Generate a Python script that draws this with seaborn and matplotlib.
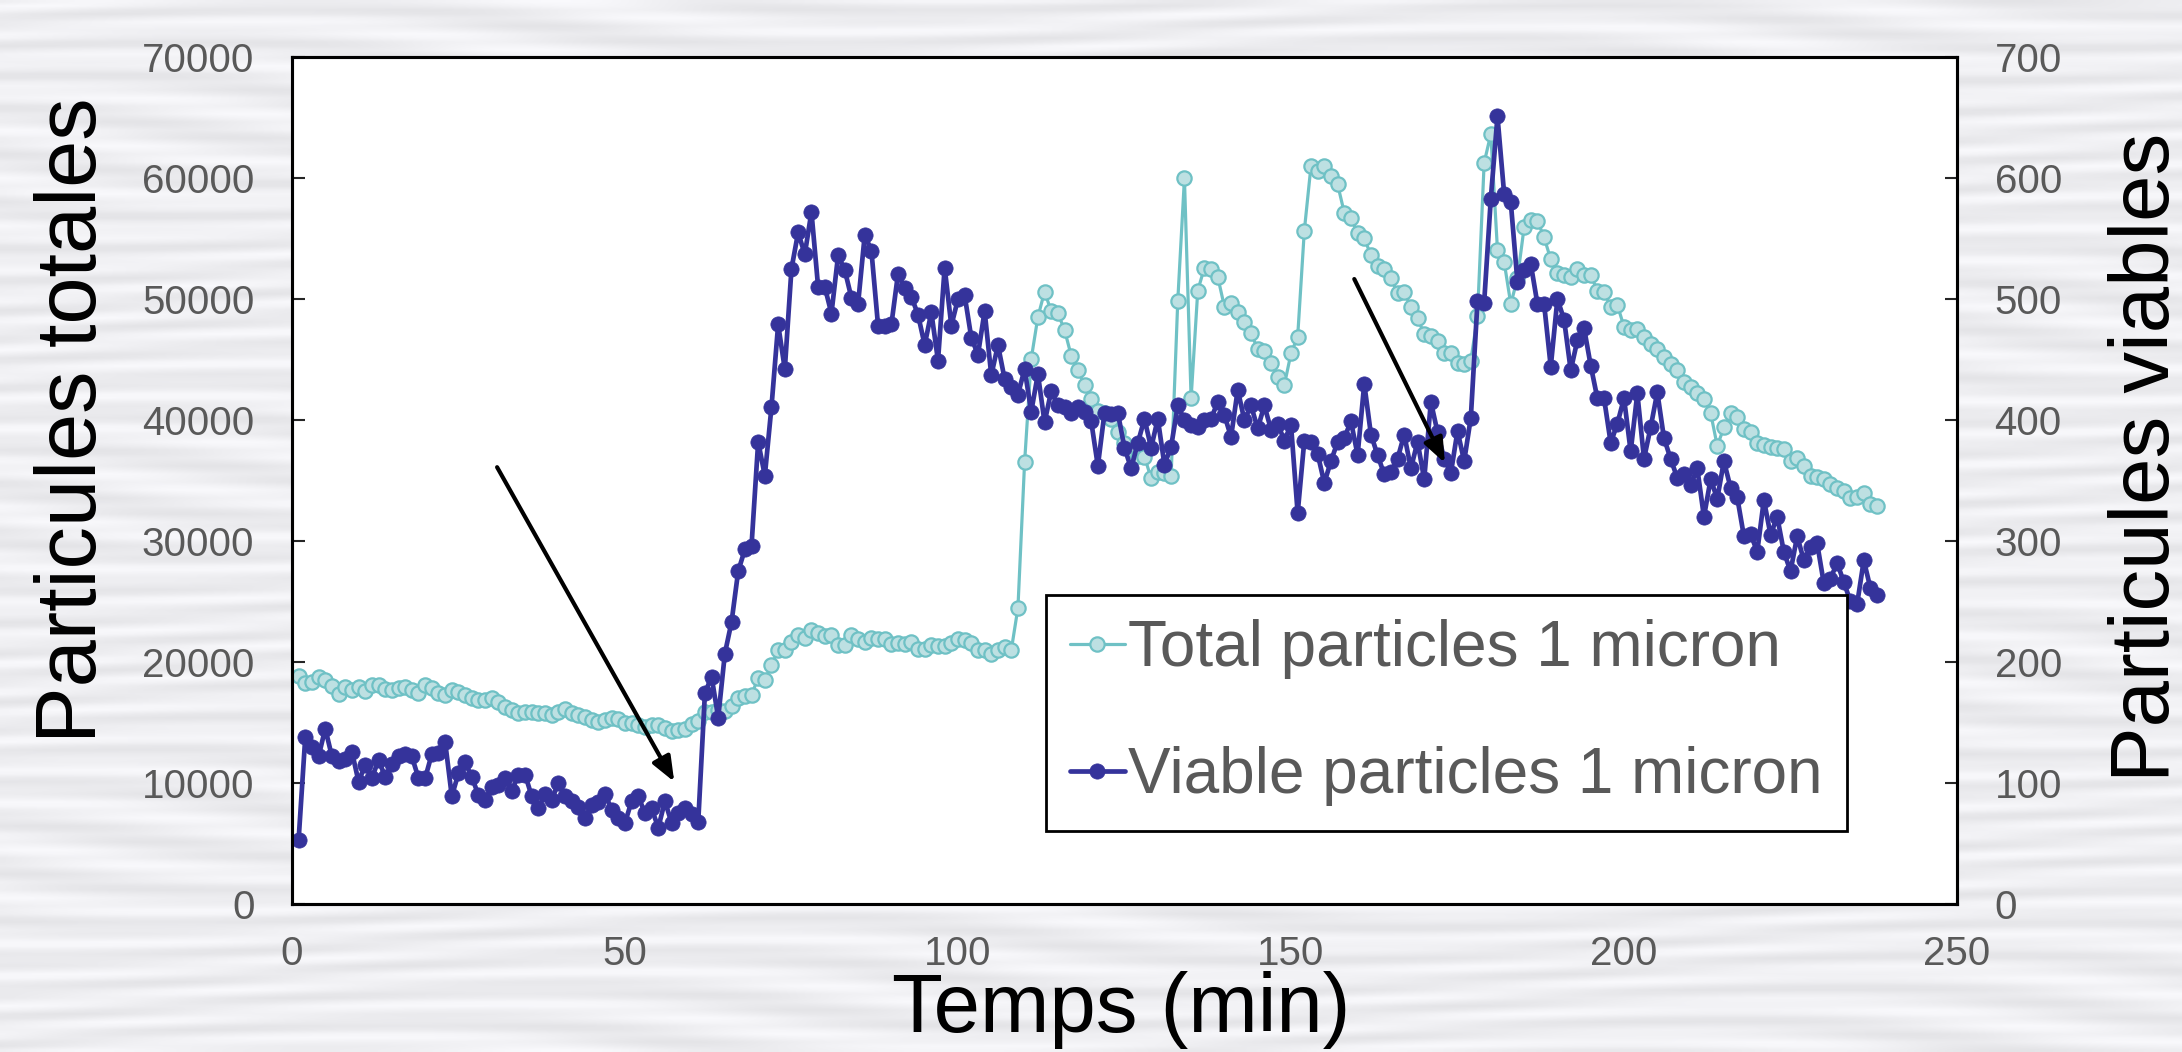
import numpy as np
import pandas as pd
import matplotlib
matplotlib.use("Agg")
import matplotlib.pyplot as plt
import seaborn as sns

# --- settings ---
sns.set_style("white")
plt.rcParams['font.family'] = ['Liberation Sans', 'DejaVu Sans']

# --- data (1 point per minute) ---
minutes = list(range(1, 239))

total = [18840, 18240, 18380, 18730, 18510, 18020, 17360, 17910, 17690, 17910,
         17630, 18100, 18100, 17740, 17690, 17820, 17910, 17690, 17410, 18100,
         17820, 17410, 17270, 17690, 17550, 17270, 17000, 16860, 16860, 17000,
         16720, 16310, 16030, 15760, 15900, 15900, 15810, 15760, 15620, 15900,
         16090, 15760, 15620, 15480, 15210, 15070, 15210, 15350, 15260, 14990,
         14930, 14790, 14660, 14790, 14790, 14520, 14330, 14380, 14500, 14900,
         15100, 15900, 15900, 16000, 15910, 16400, 17060, 17220, 17280, 18690,
         18530, 19730, 20970, 20970, 21690, 22190, 21960, 22680, 22380, 22120,
         22190, 21400, 21370, 22190, 21860, 21630, 21960, 21890, 21890, 21470,
         21530, 21470, 21630, 21070, 21070, 21400, 21310, 21310, 21530, 21890,
         21790, 21530, 20970, 20970, 20650, 20970, 21210, 20970, 24470, 36490,
         45060, 48520, 50610, 48980, 48820, 47440, 45320, 44110, 42870, 41720,
         40740, 40580, 40080, 39030, 38070, 37500, 37000, 36970, 35180, 35730,
         35590, 35370, 49860, 59970, 41790, 50690, 52590, 52450, 51840, 49360,
         49690, 48890, 48070, 47160, 45870, 45700, 44740, 43580, 42890, 45510,
         46880, 55650, 60990, 60600, 60990, 60160, 59470, 57130, 56660, 55480,
         55010, 53630, 52720, 52450, 51710, 50520, 50600, 49310, 48400, 47110,
         46940, 46530, 45560, 45560, 44740, 44630, 44900, 48590, 61260, 63630,
         54050, 53080, 49580, 51710, 55920, 56530, 56470, 55090, 53280, 52170,
         51980, 51790, 52450, 51980, 51980, 50690, 50600, 49360, 49500, 47710,
         47440, 47490, 46830, 46280, 45840, 45180, 44630, 44130, 43170, 42700,
         42200, 41710, 40600, 37850, 39390, 40550, 40220, 39230, 39030, 38070,
         37930, 37790, 37660, 37570, 36640, 36830, 36200, 35370, 35260, 35100,
         34710, 34350, 34160, 33520, 33660, 33940, 33060, 32890]

viable = [53, 138, 130, 122, 145, 122, 118, 120, 126, 101,
          115, 104, 119, 105, 116, 122, 124, 122, 104, 104,
          124, 125, 134, 89, 108, 117, 105, 90, 86, 97,
          98, 104, 93, 107, 107, 89, 79, 91, 86, 100,
          89, 85, 80, 71, 82, 84, 91, 78, 71, 67,
          85, 89, 75, 79, 63, 85, 67, 75, 79, 74,
          68, 174, 188, 154, 207, 233, 275, 293, 296, 382,
          354, 411, 479, 442, 525, 555, 537, 572, 510, 510,
          488, 536, 524, 501, 496, 553, 540, 478, 478, 479,
          521, 509, 502, 487, 462, 489, 449, 526, 478, 500,
          503, 468, 454, 490, 437, 462, 434, 427, 421, 442,
          407, 438, 398, 424, 412, 411, 406, 411, 407, 399,
          362, 406, 405, 406, 377, 360, 381, 401, 377, 401,
          363, 378, 412, 400, 396, 394, 400, 401, 415, 404,
          386, 425, 400, 412, 393, 412, 392, 397, 383, 396,
          323, 383, 382, 372, 348, 366, 382, 385, 399, 371,
          430, 388, 371, 355, 357, 368, 388, 360, 382, 351,
          415, 390, 368, 356, 391, 366, 402, 498, 497, 583,
          651, 587, 580, 514, 524, 529, 496, 496, 444, 500,
          483, 441, 466, 476, 445, 418, 418, 381, 397, 418,
          374, 422, 368, 394, 423, 385, 368, 352, 355, 346,
          360, 320, 351, 335, 366, 344, 336, 304, 306, 291,
          334, 305, 320, 291, 275, 304, 284, 295, 298, 265,
          269, 282, 266, 250, 248, 284, 261, 255]

labels = ['Total particles 1 micron', 'Viable particles 1 micron']
x_ticks = [0, 50, 100, 150, 200, 250]
y_ticks_total = list(range(0, 70001, 10000))
y_ticks_viable = list(range(0, 701, 100))

# arrows (start, end) in total-axis units
arrows = [((30.8, 36100), (57.4, 10100)),
          ((159.5, 51650), (173.1, 36450))]

df = pd.DataFrame({'minute': minutes, 'total': total, 'viable': viable})

c_total = '#6fc1c5'
c_total_face = '#bde0e2'
c_viable = '#35339b'
grey = '#595959'

fig = plt.figure(figsize=(21.82, 10.52), dpi=100)

# slide-like streaky background
bg = fig.add_axes([0, 0, 1, 1])
yy, xx = np.mgrid[0:1:263j, 0:1:546j]
wave = yy * 31 + 0.6 * np.sin(2 * np.pi * (xx * 1.7 + yy * 3))
shade = 0.935 + 0.028 * np.sin(2 * np.pi * wave) + 0.015 * np.sin(2 * np.pi * (yy * 67 + xx * 0.8))
rgb = np.dstack([shade, shade, shade + 0.012]).clip(0, 1)
bg.imshow(rgb, aspect='auto', extent=[0, 1, 0, 1], interpolation='bilinear')
bg.axis('off')

ax = fig.add_axes([0.1338, 0.1407, 0.7631, 0.8051])
ax.set_facecolor('white')
ax2 = ax.twinx()

sns.lineplot(data=df, x='minute', y='total', ax=ax, color=c_total, lw=2.3,
             marker='o', markersize=10.3, markerfacecolor=c_total_face,
             markeredgecolor=c_total, markeredgewidth=1.6,
             estimator=None, sort=False, legend=False)
sns.lineplot(data=df, x='minute', y='viable', ax=ax2, color=c_viable, lw=3.4,
             marker='o', markersize=11, markerfacecolor=c_viable,
             markeredgecolor=c_viable, markeredgewidth=0.5,
             estimator=None, sort=False, legend=False)

ax.set_xlim(0, 250)
ax.set_ylim(0, 70000)
ax2.set_ylim(0, 700)
ax.set_xticks(x_ticks)
ax.set_yticks(y_ticks_total)
ax2.set_yticks(y_ticks_viable)
ax.set_xlabel('')
ax.set_ylabel('')
ax2.set_ylabel('')

ax.tick_params(axis='x', direction='in', length=9, width=1.5, labelsize=29,
               labelcolor=grey, pad=22, top=False)
ax.tick_params(axis='y', direction='in', length=9, width=1.5, labelsize=29,
               labelcolor=grey, pad=27, right=False)
ax2.tick_params(axis='y', direction='in', length=9, width=1.5, labelsize=29,
                labelcolor=grey, pad=27)

for a in (ax, ax2):
    for s in a.spines.values():
        s.set_color('black')
        s.set_linewidth(2.2)

for (x0, y0), (x1, y1) in arrows:
    ax2.annotate('', xy=(x1, y1), xytext=(x0, y0),
                 xycoords=ax.transData, textcoords=ax.transData,
                 arrowprops=dict(arrowstyle='-|>,head_length=0.75,head_width=0.3',
                                 color='black', lw=3, mutation_scale=20,
                                 shrinkA=0, shrinkB=0))

leg = ax2.legend([ax.lines[0], ax2.lines[0]], labels, loc='upper left',
                 bbox_to_anchor=(0.4529, 0.3648), borderaxespad=0, fontsize=46,
                 frameon=True, fancybox=False, edgecolor='black', framealpha=1,
                 borderpad=0.38, labelspacing=1.05, handlelength=0.85,
                 handletextpad=0.06, labelcolor=grey)
leg.get_frame().set_linewidth(2)

fig.text(0.034, 0.601, 'Particules totales', rotation=90, ha='center', va='center',
         fontsize=61, color='black')
fig.text(0.984, 0.565, 'Particules viables', rotation=90, ha='center', va='center',
         fontsize=60, color='black')
fig.text(0.5137, 0.040, 'Temps (min)', ha='center', va='center',
         fontsize=60, color='black')

fig.savefig('out.png', dpi=100)
